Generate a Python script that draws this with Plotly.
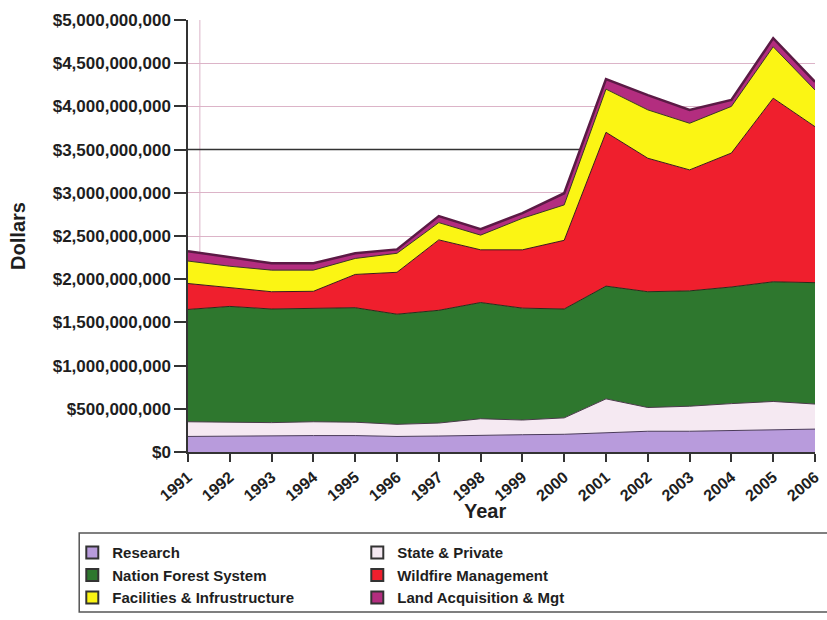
import plotly.graph_objects as go

years = list(range(1991, 2007))

# values in millions of dollars
research = [180, 185, 190, 190, 190, 180, 185, 195, 200, 205, 225, 240, 240, 250, 260, 265]
state_private = [170, 160, 150, 160, 155, 140, 150, 190, 170, 190, 390, 275, 290, 310, 325, 290]
national_forest = [1300, 1340, 1315, 1310, 1325, 1275, 1305, 1345, 1295, 1260, 1305, 1340, 1335, 1350, 1385, 1405]
wildfire = [300, 215, 200, 200, 385, 485, 815, 610, 675, 795, 1780, 1545, 1400, 1550, 2125, 1805]
facilities = [260, 250, 250, 245, 185, 220, 200, 170, 365, 410, 500, 560, 540, 540, 595, 425]
land_acq = [115, 105, 80, 80, 60, 45, 75, 70, 60, 135, 115, 170, 155, 75, 100, 95]

series_names = ["Research", "State & Private", "Nation Forest System",
                "Wildfire Management", "Facilities & Infrustructure", "Land Acquisition & Mgt"]
series_values = [research, state_private, national_forest, wildfire, facilities, land_acq]
colors = ["#b89bdc", "#f5e9f2", "#2e772e", "#ef1f2d", "#fbf514", "#b32d7f"]
line_colors = ["#4a3a5a", "#4a3a4a", "#2a2a1a", "#3a1a1a", "#3a3a1a", "#5b1a45"]
line_widths = [1, 1, 1, 1, 1, 2.5]

y_ticks = list(range(0, 5_000_000_001, 500_000_000))
y_tick_labels = ["$" + format(v, ",d") for v in y_ticks]

FONT = "Liberation Sans, Arial, sans-serif"
TXT = "#1e1e1e"

fig = go.Figure()

for name, vals, c, lc, lw in zip(series_names, series_values, colors, line_colors, line_widths):
    fig.add_trace(go.Scatter(
        x=years, y=[v * 1_000_000 for v in vals], name=name,
        mode="lines", stackgroup="one", fillcolor=c,
        line=dict(color=lc, width=lw), showlegend=False, hoverinfo="skip",
    ))

# legend swatches
for name, c in zip(series_names, colors):
    fig.add_trace(go.Scatter(
        x=[None], y=[None], name=name, mode="markers",
        marker=dict(symbol="square", size=15, color=c, line=dict(color="#333", width=1)),
        showlegend=True,
    ))

fig.update_layout(
    width=827, height=620,
    margin=dict(l=188, r=5, t=20, b=168),
    paper_bgcolor="white", plot_bgcolor="white",
    font=dict(family=FONT, color=TXT, weight="bold"),
    showlegend=True,
    legend=dict(
        orientation="h", x=(71 - 188) / 634, xanchor="left", y=-0.195, yanchor="top",
        entrywidth=240, traceorder="normal",
        font=dict(family=FONT, size=15, color=TXT, weight="bold"),
        bgcolor="rgba(0,0,0,0)", borderwidth=0, itemsizing="constant",
    ),
    xaxis=dict(
        range=[1991, 2006], tickmode="array", tickvals=years,
        ticktext=[str(y) for y in years], tickangle=-40,
        ticks="outside", ticklen=8, tickcolor="#333", tickwidth=1.5,
        showline=True, linecolor="#333", linewidth=1.5,
        showgrid=False, zeroline=False, ticklabeloverflow="allow",
        tickfont=dict(family=FONT, size=16, color=TXT, weight="bold"),
    ),
    yaxis=dict(
        range=[0, 5_000_000_000], tickmode="array", tickvals=y_ticks, ticktext=y_tick_labels,
        ticks="outside", ticklen=12, tickcolor="#333", tickwidth=1.5,
        showline=True, linecolor="#333", linewidth=1.5,
        showgrid=True, gridcolor="#dcb4c8", gridwidth=1, zeroline=False,
        tickfont=dict(family=FONT, size=17, color=TXT, weight="bold"),
        title=dict(text="Dollars", font=dict(family=FONT, size=20, color=TXT, weight="bold"), standoff=22),
    ),
    annotations=[
        dict(text="Year", xref="paper", yref="paper", x=(488 - 188) / 634, y=(452 - 511) / 432,
             xanchor="center", yanchor="middle", showarrow=False,
             font=dict(family=FONT, size=20, color=TXT, weight="bold")),
    ],
    shapes=[
        dict(type="line", xref="paper", yref="paper", x0=(200 - 188) / 634, x1=(200 - 188) / 634, y0=0, y1=1,
             line=dict(color="#dcb4c8", width=1), layer="between"),
        dict(type="line", xref="x", yref="y", x0=1991, x1=2006, y0=3_500_000_000, y1=3_500_000_000,
             line=dict(color="#333", width=1.5), layer="between"),
        dict(type="rect", xref="paper", yref="paper",
             x0=(78 - 188) / 634, x1=(840 - 188) / 634,
             y0=(452 - 612) / 432, y1=(452 - 533) / 432,
             line=dict(color="#555", width=1.5), fillcolor="rgba(0,0,0,0)"),
    ],
)

fig.write_html("out.html", config={"displayModeBar": False},
               post_script="document.body.style.margin='0px';document.body.style.overflow='hidden';")
